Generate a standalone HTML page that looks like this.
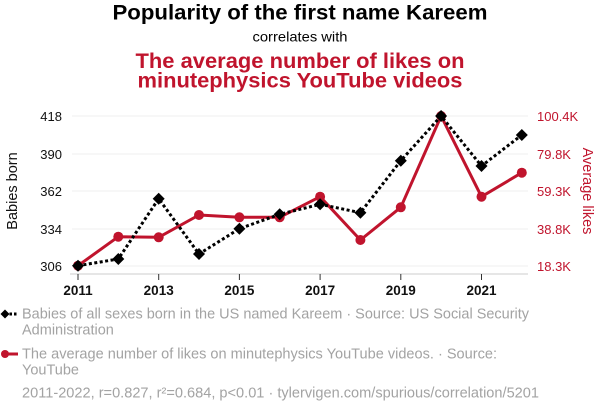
<!DOCTYPE html>
<html><head><meta charset="utf-8"><style>
html,body{margin:0;padding:0;background:#fff;}
svg{display:block;font-family:"Liberation Sans",Arial,sans-serif;}
</style></head><body>
<svg width="600" height="414" viewBox="0 0 600 414" xmlns="http://www.w3.org/2000/svg">
<rect width="600" height="414" fill="#fff"/>
<text x="300" y="19.5" font-size="21" font-weight="bold" text-anchor="middle" fill="#000" textLength="375" lengthAdjust="spacingAndGlyphs">Popularity of the first name Kareem</text>
<text x="300" y="41.5" font-size="14" text-anchor="middle" fill="#000" textLength="95" lengthAdjust="spacingAndGlyphs">correlates with</text>
<text x="300" y="68" font-size="21" font-weight="bold" text-anchor="middle" fill="#c0142d" textLength="329" lengthAdjust="spacingAndGlyphs">The average number of likes on</text>
<text x="300" y="87.5" font-size="21" font-weight="bold" text-anchor="middle" fill="#c0142d" textLength="325" lengthAdjust="spacingAndGlyphs">minutephysics YouTube videos</text>
<g stroke="#efefef" stroke-width="1">
<line x1="72" y1="116" x2="528" y2="116"/>
<line x1="72" y1="154" x2="528" y2="154"/>
<line x1="72" y1="191" x2="528" y2="191"/>
<line x1="72" y1="229" x2="528" y2="229"/>
<line x1="72" y1="266" x2="528" y2="266"/>
</g>
<line x1="70" y1="274" x2="528" y2="274" stroke="#ccc" stroke-width="1"/>
<g stroke="#333" stroke-width="1">
<line x1="78" y1="274" x2="78" y2="280"/>
<line x1="158.7" y1="274" x2="158.7" y2="280"/>
<line x1="239.4" y1="274" x2="239.4" y2="280"/>
<line x1="320.1" y1="274" x2="320.1" y2="280"/>
<line x1="400.8" y1="274" x2="400.8" y2="280"/>
<line x1="481.5" y1="274" x2="481.5" y2="280"/>
</g>
<g font-size="13" text-anchor="end" fill="#111">
<text x="62" y="121">418</text>
<text x="62" y="159">390</text>
<text x="62" y="196">362</text>
<text x="62" y="234">334</text>
<text x="62" y="271">306</text>
</g>
<g font-size="13" fill="#c0142d">
<text x="537" y="121">100.4K</text>
<text x="537" y="159">79.8K</text>
<text x="537" y="196">59.3K</text>
<text x="537" y="234">38.8K</text>
<text x="537" y="271">18.3K</text>
</g>
<g font-size="13.5" font-weight="bold" text-anchor="middle" fill="#111">
<text x="78" y="295">2011</text>
<text x="158.7" y="295">2013</text>
<text x="239.4" y="295">2015</text>
<text x="320.1" y="295">2017</text>
<text x="400.8" y="295">2019</text>
<text x="481.5" y="295">2021</text>
</g>
<text transform="translate(17,191) rotate(-90)" font-size="14.5" text-anchor="middle" fill="#111">Babies born</text>
<text transform="translate(583,191) rotate(90)" font-size="14.5" text-anchor="middle" fill="#c0142d">Average likes</text>
<polyline fill="none" stroke="#c0142d" stroke-width="3" stroke-linejoin="round" points="78,265.7 118.3,236.7 158.7,237.3 199,215 239.4,217.3 279.7,217.3 320.1,196.7 360.4,240 400.8,207.3 441.1,116 481.5,196.7 521.8,172.7"/>
<g fill="#c0142d">
<circle cx="78" cy="265.7" r="5"/><circle cx="118.3" cy="236.7" r="5"/><circle cx="158.7" cy="237.3" r="5"/><circle cx="199" cy="215" r="5"/><circle cx="239.4" cy="217.3" r="5"/><circle cx="279.7" cy="217.3" r="5"/><circle cx="320.1" cy="196.7" r="5"/><circle cx="360.4" cy="240" r="5"/><circle cx="400.8" cy="207.3" r="5"/><circle cx="441.1" cy="116" r="5"/><circle cx="481.5" cy="196.7" r="5"/><circle cx="521.8" cy="172.7" r="5"/>
</g>
<polyline fill="none" stroke="#000" stroke-width="3" stroke-dasharray="3,2.5" points="78,265.7 118.3,259 158.7,198.7 199,254 239.4,228.7 279.7,214.3 320.1,204.3 360.4,212.7 400.8,160.7 441.1,116 481.5,166 521.8,135"/>
<g fill="#000">
<path d="M78 259.7 L84 265.7 L78 271.7 L72 265.7Z"/>
<path d="M118.3 253 L124.3 259 L118.3 265 L112.3 259Z"/>
<path d="M158.7 192.7 L164.7 198.7 L158.7 204.7 L152.7 198.7Z"/>
<path d="M199 248 L205 254 L199 260 L193 254Z"/>
<path d="M239.4 222.7 L245.4 228.7 L239.4 234.7 L233.4 228.7Z"/>
<path d="M279.7 208.3 L285.7 214.3 L279.7 220.3 L273.7 214.3Z"/>
<path d="M320.1 198.3 L326.1 204.3 L320.1 210.3 L314.1 204.3Z"/>
<path d="M360.4 206.7 L366.4 212.7 L360.4 218.7 L354.4 212.7Z"/>
<path d="M400.8 154.7 L406.8 160.7 L400.8 166.7 L394.8 160.7Z"/>
<path d="M441.1 110 L447.1 116 L441.1 122 L435.1 116Z"/>
<path d="M481.5 160 L487.5 166 L481.5 172 L475.5 166Z"/>
<path d="M521.8 129 L527.8 135 L521.8 141 L515.8 135Z"/>
</g>
<line x1="5" y1="314" x2="18" y2="314" stroke="#000" stroke-width="3" stroke-dasharray="2.5,2"/>
<path d="M5 309.5 L9.5 314 L5 318.5 L0.5 314Z" fill="#000"/>
<line x1="5" y1="354" x2="18" y2="354" stroke="#c0142d" stroke-width="3"/>
<circle cx="5" cy="354" r="4" fill="#c0142d"/>
<g font-size="14.5" fill="#a3a3a3">
<text x="22" y="318.5" textLength="507" lengthAdjust="spacingAndGlyphs">Babies of all sexes born in the US named Kareem · Source: US Social Security</text>
<text x="22" y="334.5">Administration</text>
<text x="22" y="358.5" textLength="475" lengthAdjust="spacingAndGlyphs">The average number of likes on minutephysics YouTube videos. · Source:</text>
<text x="22" y="374.5">YouTube</text>
<text x="22" y="397.5" textLength="517" lengthAdjust="spacingAndGlyphs">2011-2022, r=0.827, r²=0.684, p&lt;0.01 · tylervigen.com/spurious/correlation/5201</text>
</g>
</svg>
</body></html>
